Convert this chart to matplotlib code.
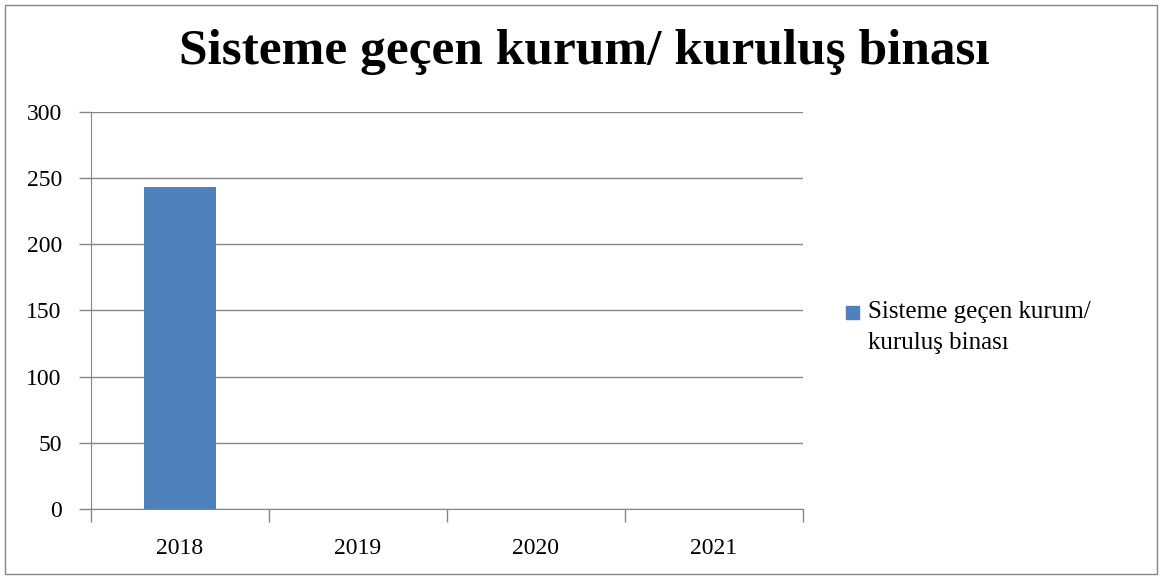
import matplotlib.pyplot as plt
import numpy as np
from matplotlib.patches import Rectangle

# datos
years = ['2018', '2019', '2020', '2021']
values = [243, 0, 0, 0]
series_name = 'Sisteme geçen kurum/\nkuruluş binası'
title = 'Sisteme geçen kurum/ kuruluş binası'
yticks = [0, 50, 100, 150, 200, 250, 300]
bar_color = '#4f81bd'

plt.rcParams['font.family'] = ['Liberation Serif', 'DejaVu Serif']

fig = plt.figure(figsize=(11.63, 5.79), dpi=100)
ax = fig.add_axes([0.0782, 0.1209, 0.6122, 0.6857])

x = np.arange(len(years))
ax.bar(x, values, width=0.4, color=bar_color, zorder=3)

ax.set_xlim(-0.5, len(years) - 0.5)
ax.set_ylim(0, 300)
ax.set_yticks(yticks)
ax.set_yticklabels([str(t) for t in yticks], fontsize=17)
ax.set_xticks(x)
ax.set_xticklabels(years, fontsize=17)
ax.set_xticks(np.arange(len(years) + 1) - 0.5, minor=True)
ax.tick_params(axis='x', which='major', length=0, pad=21)
ax.tick_params(axis='x', which='minor', length=9, color='#868686', width=1)
ax.tick_params(axis='y', length=9, color='#868686', width=1, pad=12)
ax.grid(axis='y', color='#868686', linewidth=1, zorder=0)

for s in ['top', 'right']:
    ax.spines[s].set_visible(False)
ax.spines['left'].set_color('#868686')
ax.spines['bottom'].set_color('#868686')

fig.text(0.502, 0.91, title, fontsize=37, fontweight='bold', ha='center', va='center')

# leyenda (cuadro alineado con la primera línea, como en Excel)
fig.patches.append(Rectangle((846 / 1163, 1 - 319 / 579), 13 / 1163, 13 / 579,
                             transform=fig.transFigure, color=bar_color))
fig.text(868 / 1163, 1 - 301 / 579, series_name, fontsize=18, va='top', ha='left',
         linespacing=1.55)

# borde del gráfico
fig.patches.append(Rectangle((5 / 1163, 5 / 579), 1152 / 1163, 569 / 579,
                             transform=fig.transFigure, fill=False,
                             edgecolor='#868686', linewidth=1))

fig.savefig('out.png', dpi=100)
